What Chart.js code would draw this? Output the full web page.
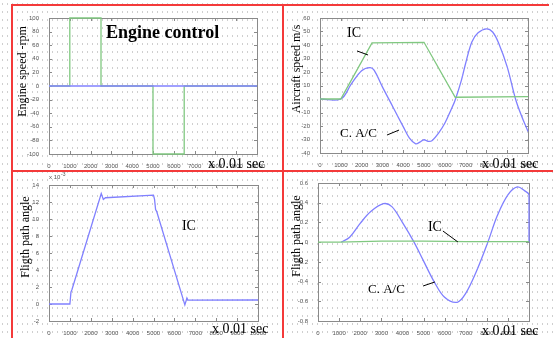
<!DOCTYPE html>
<html><head><meta charset="utf-8">
<script src="https://cdn.jsdelivr.net/npm/chart.js@4"></script>
<style>
html,body{margin:0;padding:0;}
body{width:553px;height:338px;position:relative;overflow:hidden;background-color:#fff;
background-image:radial-gradient(circle, #cfcfcf 0.8px, transparent 1.1px);background-size:5px 8px;}
canvas{position:absolute;}
.r{position:absolute;background:#f43a3a;}
</style></head><body>
<canvas id="c1" width="283" height="170" style="left:0;top:0"></canvas>
<canvas id="c2" width="270" height="170" style="left:283px;top:0"></canvas>
<canvas id="c3" width="283" height="168" style="left:0;top:170px"></canvas>
<canvas id="c4" width="270" height="168" style="left:283px;top:170px"></canvas>
<div class="r" style="left:11px;top:4px;width:2px;height:334px"></div>
<div class="r" style="left:11px;top:4px;width:538px;height:2px"></div>
<div class="r" style="left:282px;top:4px;width:2px;height:334px"></div>
<div class="r" style="left:11px;top:170px;width:542px;height:2px"></div>
<script>
// ---------- data ----------
const xTickLabels = [0,1000,2000,3000,4000,5000,6000,7000,8000,9000,10000];

// Panel 1: engine control
const engTime   = [0,1000,1000,2500,2500,5000,5000,6500,6500,10000];
const engSpeed  = [0,0,100,100,0,0,-100,-100,0,0];
const engBaseT  = [0,10000];
const engBaseV  = [0,0];

// Panel 2: aircraft speed
const spdIcT  = [0,1000,2500,5000,6500,10000];
const spdIcV  = [0,0,41.5,42,1.3,1.8];
const spdCacT = [0,1000,1500,2000,2400,2600,3000,3500,4000,4300,4600,4800,5000,5200,5400,5700,6000,6300,6500,6800,7000,7300,7600,8000,8300,8600,9000,9400,9700,10000];
const spdCacV = [0,0,11,21,23.3,21.4,9,-5.7,-20.5,-29,-33.2,-32,-30.2,-31.4,-30.7,-25.3,-18,-8,-0.7,14,26.3,42.3,49,52,49.6,41,23.8,0,-13,-24];

// Panel 3: flight path angle (x 10^-3), IC
const fpaIcT = [0,1000,1050,1100,2500,2600,2700,5000,5050,5100,5150,6500,6600,6650,10000];
const fpaIcV = [0,0,1.4,1.7,13,12.3,12.5,12.8,12.3,11.1,10.9,-0.1,0.7,0.45,0.47];

// Panel 4: flight path angle, C. A/C vs IC
const fpaCacT = [0,1100,1500,2000,2500,3100,3500,4000,4550,5000,5500,6000,6600,7000,7500,8050,8500,9000,9450,9800,10000,10000];
const fpaCacV = [null,0,0.05,0.19,0.31,0.39,0.36,0.20,0,-0.19,-0.40,-0.56,-0.61,-0.52,-0.30,0,0.27,0.48,0.56,0.52,0.48,0];
const fpa2IcT = [0,1000,3000,5000,7000,10000];
const fpa2IcV = [0,0,0.01,0.01,0.005,0.005];

// ---------- helpers ----------
const BLUE = '#8080ff', GREEN = '#80c880';
const SERIF = '"Liberation Serif", "DejaVu Serif", serif';
function pts(xs, ys){ return xs.map((x,i)=>({x:x, y:ys[i]})); }

const framePlugin = {
  id:'frame',
  beforeDatasetsDraw(chart){
    const {ctx, chartArea:a, scales:{x,y}} = chart;
    ctx.save();
    ctx.strokeStyle = '#8a8a8a'; ctx.lineWidth = 1;
    ctx.strokeRect(Math.round(a.left)+0.5, Math.round(a.top)+0.5, Math.round(a.right-a.left), Math.round(a.bottom-a.top));
    ctx.beginPath();
    x.ticks.forEach(t=>{ const p=Math.round(x.getPixelForValue(t.value))+0.5;
      ctx.moveTo(p,a.bottom); ctx.lineTo(p,a.bottom-3); ctx.moveTo(p,a.top); ctx.lineTo(p,a.top+3); });
    y.ticks.forEach(t=>{ const p=Math.round(y.getPixelForValue(t.value))+0.5;
      ctx.moveTo(a.left,p); ctx.lineTo(a.left+3,p); ctx.moveTo(a.right,p); ctx.lineTo(a.right-3,p); });
    ctx.stroke();
    ctx.restore();
  },
  afterDraw(chart){
    const o = chart.options.plugins.frame || {};
    const {ctx, scales:{x,y}} = chart;
    ctx.save();
    ctx.fillStyle = '#000'; ctx.strokeStyle = '#000'; ctx.lineWidth = 1;
    (o.texts||[]).forEach(t=>{
      ctx.save();
      ctx.font = t.font;
      ctx.fillStyle = t.color || '#000';
      ctx.textAlign = t.align || 'left';
      ctx.textBaseline = t.base || 'alphabetic';
      let px = t.data ? x.getPixelForValue(t.x) : t.x;
      let py = t.data ? y.getPixelForValue(t.y) : t.y;
      ctx.translate(px, py);
      if (t.rot) ctx.rotate(t.rot);
      ctx.fillText(t.text, 0, 0);
      ctx.restore();
    });
    (o.lines||[]).forEach(l=>{
      ctx.beginPath();
      ctx.moveTo(x.getPixelForValue(l[0]), y.getPixelForValue(l[1]));
      ctx.lineTo(x.getPixelForValue(l[2]), y.getPixelForValue(l[3]));
      ctx.stroke();
    });
    ctx.restore();
  }
};

function makeChart(id, p){
  const tickFont = {family:'"Liberation Sans", Arial, sans-serif', size:6};
  return new Chart(document.getElementById(id), {
    type:'line',
    data:{datasets:p.datasets.map(d=>Object.assign({
      borderWidth:1.3, pointRadius:0, fill:false, tension:0, clip:3, spanGaps:false
    }, d))},
    options:{
      responsive:false, animation:false, events:[],
      layout:{padding:{top:p.padTop, right:p.padRight, left:0, bottom:0}},
      plugins:{legend:{display:false}, tooltip:{enabled:false}, frame:{texts:p.texts, lines:p.lines||[]}},
      scales:{
        x:{type:'linear', min:0, max:10000,
           afterBuildTicks:s=>{ s.ticks = xTickLabels.map(v=>({value:v})); },
           ticks:{font:tickFont, color:'#555', padding:1, maxRotation:0, autoSkip:false, callback:v=>String(v)},
           grid:{display:false}, border:{display:false},
           afterFit:s=>{ s.height = p.xH; }},
        y:{type:'linear', min:p.yMin, max:p.yMax,
           ticks:{font:tickFont, color:'#555', padding:2, stepSize:p.yStep, autoSkip:false,
             callback:v=>{ const r=Math.round(v*1000)/1000; return String(r); }},
           grid:{display:false}, border:{display:false},
           afterFit:s=>{ s.width = p.yW; }}
      }
    },
    plugins:[framePlugin]
  });
}

// Panel 1
makeChart('c1', {
  padTop:18, padRight:26, yW:49, xH:16, yMin:-100, yMax:100, yStep:20,
  datasets:[
    {data:pts(engBaseT, engBaseV), borderColor:BLUE},
    {data:pts(engTime, engSpeed), borderColor:GREEN}
  ],
  texts:[
    {text:'Engine control', x:2740, y:70.6, data:true, font:'bold 18px '+SERIF},
    {text:'Engine speed -rpm', x:26, y:71.5, rot:-Math.PI/2, align:'center', font:'12px '+SERIF},
    {text:'x 0.01 sec', x:208, y:168, font:'14px '+SERIF}
  ]
});

// Panel 2
makeChart('c2', {
  padTop:18, padRight:25, yW:37, xH:17, yMin:-40, yMax:60, yStep:10,
  datasets:[
    {data:pts(spdIcT, spdIcV), borderColor:GREEN},
    {data:pts(spdCacT, spdCacV), borderColor:BLUE, tension:0.35}
  ],
  texts:[
    {text:'IC', x:1300, y:45.9, data:true, font:'14px '+SERIF},
    {text:'C. A/C', x:960, y:-28.1, data:true, font:'13px '+SERIF},
    {text:'Aircraft speed m/s', x:17, y:69, rot:-Math.PI/2, align:'center', font:'12px '+SERIF},
    {text:'x 0.01 sec', x:199, y:168, font:'14px '+SERIF}
  ],
  lines:[[1780,35.6,2310,32.6],[3220,-26.7,3800,-23]]
});

// Panel 3
makeChart('c3', {
  padTop:15, padRight:25, yW:49, xH:17, yMin:-2, yMax:14, yStep:2,
  datasets:[
    {data:pts(fpaIcT, fpaIcV), borderColor:BLUE}
  ],
  texts:[
    {text:'IC', x:6360, y:8.7, data:true, font:'14px '+SERIF},
    {text:'Fligth path angle', x:29, y:67, rot:-Math.PI/2, align:'center', font:'12px '+SERIF},
    {text:'x 10', x:49, y:9, font:'6px "Liberation Sans", Arial, sans-serif', color:'#555'},
    {text:'-3', x:61, y:6, font:'5px "Liberation Sans", Arial, sans-serif', color:'#555'},
    {text:'x 0.01 sec', x:212, y:163, font:'14px '+SERIF}
  ]
});

// Panel 4
makeChart('c4', {
  padTop:13, padRight:24, yW:35, xH:17, yMin:-0.8, yMax:0.6, yStep:0.2,
  datasets:[
    {data:pts(fpa2IcT, fpa2IcV), borderColor:GREEN},
    {data:pts(fpaCacT, fpaCacV), borderColor:BLUE, tension:0.35}
  ],
  texts:[
    {text:'IC', x:5210, y:0.113, data:true, font:'14px '+SERIF},
    {text:'C. A/C', x:2370, y:-0.516, data:true, font:'13px '+SERIF},
    {text:'Fligth path angle', x:17, y:66, rot:-Math.PI/2, align:'center', font:'12px '+SERIF},
    {text:'x 0.01 sec', x:199, y:165, font:'14px '+SERIF}
  ],
  lines:[[5920,0.113,6630,0.0016],[4980,-0.445,5540,-0.404]]
});
</script>
</body></html>
